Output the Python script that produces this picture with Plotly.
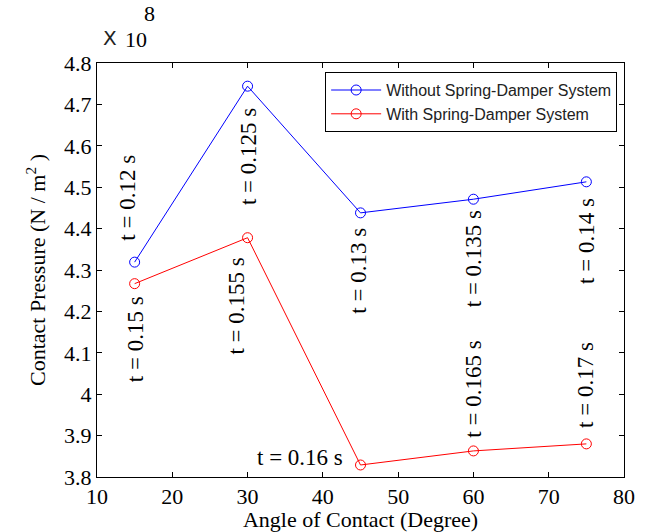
import plotly.graph_objects as go

angles = [15, 30, 45, 60, 75]
without_sd = [4.319, 4.744, 4.438, 4.471, 4.513]
with_sd = [4.267, 4.378, 3.829, 3.863, 3.880]

x_ticks = [10, 20, 30, 40, 50, 60, 70, 80]
y_ticks = [3.8, 3.9, 4.0, 4.1, 4.2, 4.3, 4.4, 4.5, 4.6, 4.7, 4.8]
y_tick_labels = ["3.8", "3.9", "4", "4.1", "4.2", "4.3", "4.4", "4.5", "4.6", "4.7", "4.8"]

# annotation labels: text, x, y, rotated?
label_text = ["t = 0.12 s", "t = 0.125 s", "t = 0.13 s", "t = 0.135 s", "t = 0.14 s",
              "t = 0.15 s", "t = 0.155 s", "t = 0.16 s", "t = 0.165 s", "t = 0.17 s"]
label_x = [14.0, 30.2, 44.7, 60.0, 75.0, 15.05, 28.4, 36.96, 60.0, 74.8]
label_y = [4.475, 4.573, 4.299, 4.327, 4.371, 4.133, 4.213, 3.846, 4.012, 4.022]
label_rot = [True, True, True, True, True, True, True, False, True, True]

serif = "Liberation Serif, Times New Roman, serif"
sans = "Liberation Sans, Arial, sans-serif"
FS = 22

fig = go.Figure()
fig.add_trace(go.Scatter(
    x=angles, y=without_sd, mode="lines+markers", name="Without Spring-Damper System",
    line=dict(color="#0000ff", width=1),
    marker=dict(symbol="circle-open", size=10, color="#0000ff", line=dict(width=1)),
))
fig.add_trace(go.Scatter(
    x=angles, y=with_sd, mode="lines+markers", name="With Spring-Damper System",
    line=dict(color="#ff0000", width=1),
    marker=dict(symbol="circle-open", size=10, color="#ff0000", line=dict(width=1)),
))

for t, lx, ly, rot in zip(label_text, label_x, label_y, label_rot):
    fig.add_annotation(x=lx, y=ly, xref="x", yref="y", text=t, showarrow=False,
                       textangle=-90 if rot else 0,
                       font=dict(family=serif, size=23, color="black"))

# exponent label "X 10^8"
fig.add_annotation(x=0.0, y=1.0, xref="paper", yref="paper", showarrow=False,
                   text="X", xanchor="left", yanchor="middle", xshift=4, yshift=25,
                   font=dict(family="DejaVu Sans, sans-serif", size=20, color="#222222"))
fig.add_annotation(x=0.0, y=1.0, xref="paper", yref="paper", showarrow=False,
                   text="10", xanchor="left", yanchor="middle", xshift=26, yshift=24,
                   font=dict(family=serif, size=FS, color="black"))
fig.add_annotation(x=0.0, y=1.0, xref="paper", yref="paper", showarrow=False,
                   text="8", xanchor="left", yanchor="middle", xshift=45, yshift=50,
                   font=dict(family=serif, size=FS, color="black"))

fig.update_xaxes(range=[10, 80], tickvals=x_ticks, ticktext=[str(v) for v in x_ticks],
                 ticks="inside", ticklen=5, tickcolor="black", mirror="allticks",
                 showline=True, linecolor="black", linewidth=1, showgrid=False, zeroline=False,
                 automargin=False,
                 tickfont=dict(family=serif, size=FS, color="black"),
                 title=dict(text="Angle of Contact (Degree)", standoff=0,
                            font=dict(family=serif, size=FS, color="black")))
fig.update_yaxes(range=[3.8, 4.8], tickvals=y_ticks, ticktext=y_tick_labels,
                 ticks="inside", ticklen=5, tickcolor="black", mirror="allticks",
                 showline=True, linecolor="black", linewidth=1, showgrid=False, zeroline=False,
                 automargin=False,
                 tickfont=dict(family=serif, size=FS, color="black"),
                 title=dict(text="Contact Pressure (N / m<sup>2</sup> )", standoff=12,
                            font=dict(family=serif, size=FS, color="black")))

fig.update_layout(
    width=646, height=532,
    margin=dict(l=97, r=22, t=63, b=55),
    paper_bgcolor="white", plot_bgcolor="white",
    showlegend=True,
    legend=dict(x=0.987, y=0.978, xanchor="right", yanchor="top",
                bordercolor="black", borderwidth=1, bgcolor="white",
                font=dict(family=sans, size=16, color="#222222"),
                itemwidth=50, tracegroupgap=0),
)

fig.write_html("out.html", config={"displayModeBar": False},
               post_script="document.body.style.margin='0px';document.body.style.overflow='hidden';")
